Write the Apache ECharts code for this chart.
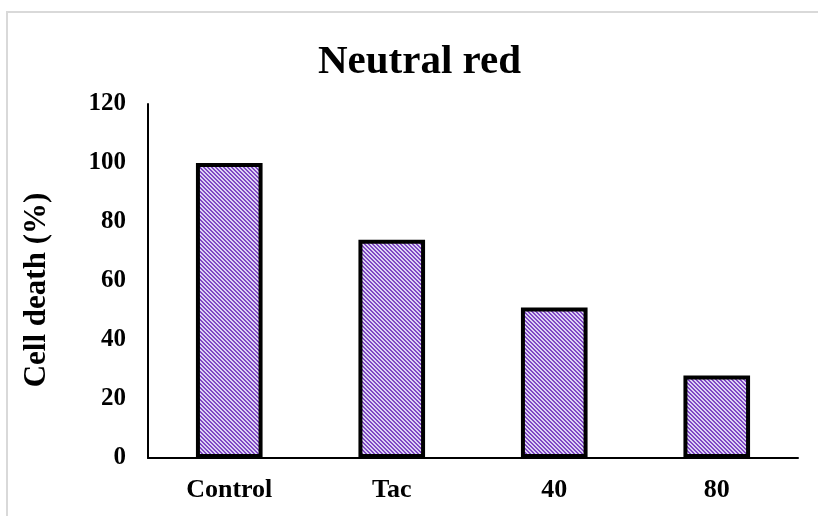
<!DOCTYPE html>
<html>
<head>
<meta charset="utf-8">
<style>
html,body{margin:0;padding:0;background:#fff;}
#chart{width:818px;height:516px;}
</style>
<script src="https://cdn.jsdelivr.net/npm/echarts@6/dist/echarts.min.js"></script>
</head>
<body>
<div id="chart"></div>
<script>
var titleText = 'Neutral red';
var yAxisName = 'Cell death (%)';
var categories = ['Control', 'Tac', '40', '80'];
var cellDeath = [100, 74, 51, 28];

function makePattern() {
  var c = document.createElement('canvas');
  c.width = 4; c.height = 4;
  var ctx = c.getContext('2d');
  var img = ctx.createImageData(4, 4);
  for (var y = 0; y < 4; y++) {
    for (var x = 0; x < 4; x++) {
      var d = ((x - y) % 4 + 4) % 4;
      var i = (y * 4 + x) * 4;
      var dark = d < 2;
      img.data[i] = dark ? 0x80 : 0xdc;
      img.data[i + 1] = dark ? 0x48 : 0xd4;
      img.data[i + 2] = dark ? 0xc4 : 0xf4;
      img.data[i + 3] = 255;
    }
  }
  ctx.putImageData(img, 0, 0);
  return c;
}

var font = '"Liberation Serif", "Times New Roman", serif';
var chart = echarts.init(document.getElementById('chart'), null, {renderer: 'canvas'});
chart.setOption({
  animation: false,
  backgroundColor: '#ffffff',
  graphic: [{
    type: 'rect',
    shape: {x: 7, y: 12, width: 900, height: 600},
    style: {fill: 'none', stroke: '#d9d9d9', lineWidth: 2},
    silent: true,
    z: -10
  }],
  title: {
    text: titleText,
    left: 313,
    top: 37,
    textStyle: {fontFamily: font, fontWeight: 'bold', fontSize: 41, color: '#000'}
  },
  grid: {left: 148, right: 20, top: 104, bottom: 58, containLabel: false},
  xAxis: {
    type: 'category',
    data: categories,
    axisLine: {lineStyle: {color: '#000', width: 2}},
    axisTick: {show: false},
    axisLabel: {fontFamily: font, fontWeight: 'bold', fontSize: 26, color: '#000', margin: 19}
  },
  yAxis: {
    type: 'value',
    min: 0, max: 120, interval: 20,
    name: yAxisName,
    nameLocation: 'middle',
    nameGap: 96,
    nameTextStyle: {fontFamily: font, fontWeight: 'bold', fontSize: 31, color: '#000', padding: [0, 18, 0, 0]},
    axisLine: {show: true, lineStyle: {color: '#000', width: 2}},
    axisTick: {show: false},
    splitLine: {show: false},
    axisLabel: {fontFamily: font, fontWeight: 'bold', fontSize: 25, color: '#000', margin: 22}
  },
  series: [{
    type: 'bar',
    data: cellDeath,
    barWidth: '41%',
    itemStyle: {
      color: {image: makePattern(), repeat: 'repeat'},
      borderColor: '#000',
      borderWidth: 4
    }
  }]
});
</script>
</body>
</html>
